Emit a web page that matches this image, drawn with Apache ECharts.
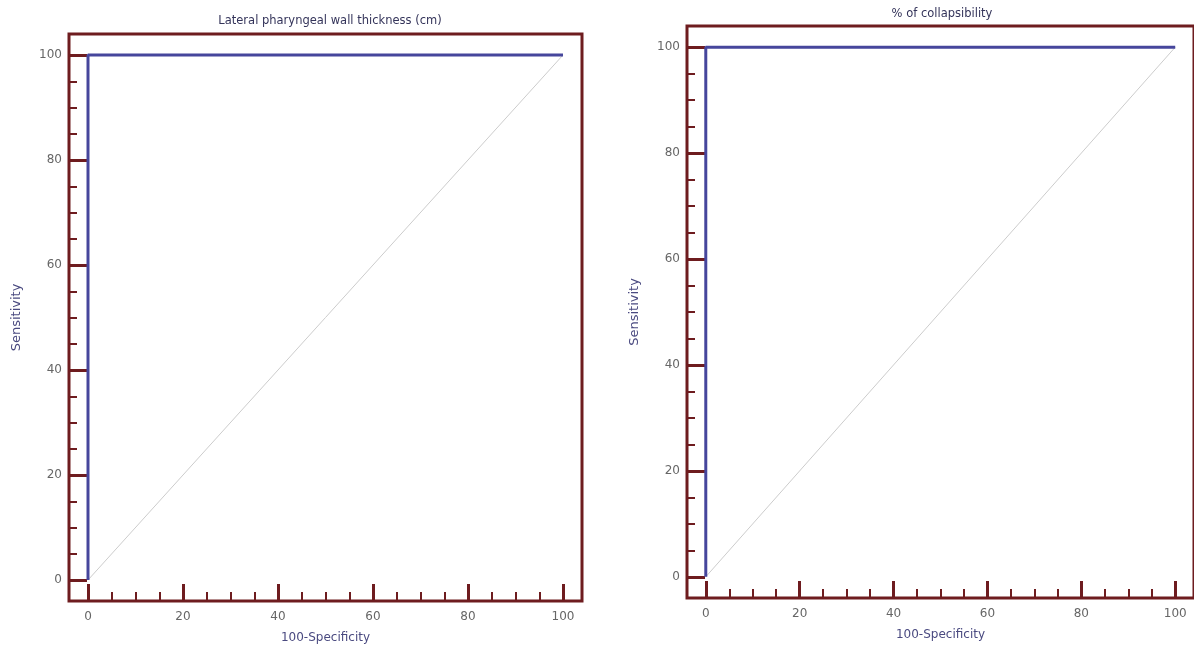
<!DOCTYPE html>
<html><head><meta charset="utf-8">
<script src="https://cdn.jsdelivr.net/npm/echarts@6/dist/echarts.min.js"></script>
<style>html,body{margin:0;padding:0;background:#fff}#c{width:1194px;height:650px}</style>
</head><body><div id="c"></div>
<script>
const titles = ['Lateral pharyngeal wall thickness (cm)', '% of collapsibility'];
const xName = '100-Specificity';
const yName = 'Sensitivity';
const majorTicks = [0, 20, 40, 60, 80, 100];
const minorTicks = [5, 10, 15, 25, 30, 35, 45, 50, 55, 65, 70, 75, 85, 90, 95];
// ROC curve points [100-Specificity, Sensitivity]
const rocLeft = [[0, 0], [0, 100], [100, 100]];
const rocRight = [[0, 0], [0, 100], [100, 100]];
const diagonal = [[0, 0], [100, 100]];

const boxColor = '#6e1c1f';
const lineBlue = '#46469c';
const labelColor = '#666666';
const nameColor = '#4a4a80';
const font = 'DejaVu Sans, Verdana, sans-serif';

const grids = [
  {left: 69, top: 34, width: 513, height: 567},
  {left: 687, top: 26, width: 512, height: 572}
];
const titlePos = [{x: 325, y: 10}, {x: 937, y: 3}];

const chart = echarts.init(document.getElementById('c'));
const xAxes = [], yAxes = [], series = [], titleOpts = [];
grids.forEach((g, i) => {
  titleOpts.push({text: titles[i], left: titlePos[i].x, top: titlePos[i].y, textAlign: 'center',
    textStyle: {fontSize: 11.5, fontWeight: 'normal', color: '#34345a', fontFamily: font}});
  // major x axis
  xAxes.push({gridIndex: i, type: 'value', min: -4, max: 104, position: 'bottom',
    name: xName, nameLocation: 'middle', nameGap: 31,
    nameTextStyle: {fontSize: 12, color: nameColor, fontFamily: font},
    axisLine: {show: false, onZero: false},
    axisTick: {show: true, inside: true, length: 17, customValues: majorTicks, lineStyle: {color: boxColor, width: 3}},
    axisLabel: {customValues: majorTicks, margin: 10, color: labelColor, fontSize: 12, fontFamily: font},
    splitLine: {show: false}});
  // minor x axis
  xAxes.push({gridIndex: i, type: 'value', min: -4, max: 104, position: 'bottom',
    axisLine: {show: false, onZero: false},
    axisTick: {show: true, inside: true, length: 9, customValues: minorTicks, lineStyle: {color: boxColor, width: 2}},
    axisLabel: {show: false}, splitLine: {show: false}});
  yAxes.push({gridIndex: i, type: 'value', min: -4, max: 104, position: 'left',
    name: yName, nameLocation: 'middle', nameGap: 46,
    nameTextStyle: {fontSize: 13, color: nameColor, fontFamily: font},
    axisLine: {show: false, onZero: false},
    axisTick: {show: true, inside: true, length: 18, customValues: majorTicks, lineStyle: {color: boxColor, width: 3}},
    axisLabel: {customValues: majorTicks, margin: 7, color: labelColor, fontSize: 12, fontFamily: font},
    splitLine: {show: false}});
  yAxes.push({gridIndex: i, type: 'value', min: -4, max: 104, position: 'left',
    axisLine: {show: false, onZero: false},
    axisTick: {show: true, inside: true, length: 8, customValues: minorTicks, lineStyle: {color: boxColor, width: 2}},
    axisLabel: {show: false}, splitLine: {show: false}});
  series.push({type: 'line', xAxisIndex: 2 * i, yAxisIndex: 2 * i, data: diagonal, symbol: 'none',
    lineStyle: {color: '#cccccc', width: 1}, z: 2, silent: true});
  series.push({type: 'line', xAxisIndex: 2 * i, yAxisIndex: 2 * i, data: i === 0 ? rocLeft : rocRight, symbol: 'none',
    lineStyle: {color: lineBlue, width: 3}, z: 3, silent: true});
});

chart.setOption({
  animation: false,
  title: titleOpts,
  grid: grids.map(g => Object.assign({show: true, borderColor: boxColor, borderWidth: 3, backgroundColor: 'transparent'}, g)),
  xAxis: xAxes,
  yAxis: yAxes,
  series: series
});
</script></body></html>
